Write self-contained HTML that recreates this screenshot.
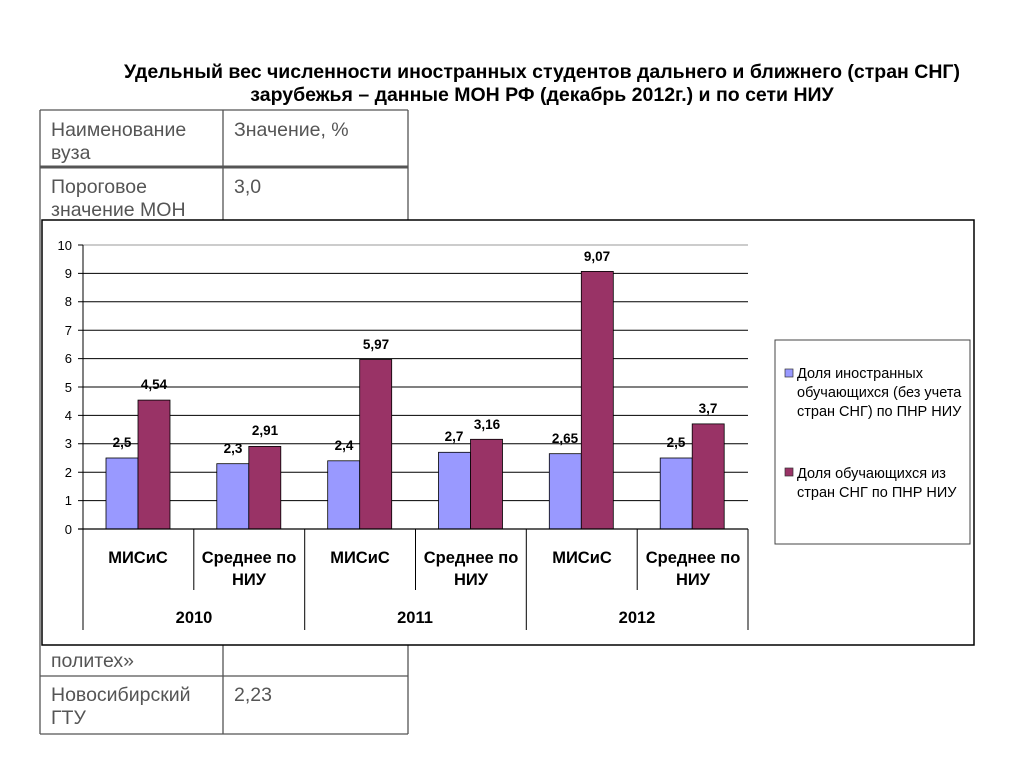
<!DOCTYPE html>
<html><head><meta charset="utf-8"><style>
body{margin:0;width:1024px;height:768px;background:#fff;position:relative;overflow:hidden;font-family:"Liberation Sans",sans-serif}
</style></head><body>
<div style="position:absolute;left:40px;top:61px;width:1004px;text-align:center;font-weight:bold;font-size:19.5px;line-height:23px;color:#000">Удельный вес численности иностранных студентов дальнего и ближнего (стран СНГ)<br>зарубежья – данные МОН РФ (декабрь 2012г.) и по сети НИУ</div>
<svg width="1024" height="768" style="position:absolute;left:0;top:0" font-family="Liberation Sans, sans-serif">
<g stroke="#555" stroke-width="1.3" fill="none">
<line x1="40" y1="110" x2="408" y2="110"/>
<line x1="40" y1="110" x2="40" y2="734"/>
<line x1="408" y1="110" x2="408" y2="734"/>
<line x1="223" y1="110" x2="223" y2="734"/>
<line x1="40" y1="676" x2="408" y2="676"/>
<line x1="40" y1="734" x2="408" y2="734"/>
</g>
<line x1="40" y1="167" x2="408" y2="167" stroke="#555" stroke-width="3"/>
<g font-size="19.5" fill="#555">
<text x="51" y="136">Наименование</text><text x="51" y="159">вуза</text>
<text x="234" y="136">Значение, %</text>
<text x="51" y="193">Пороговое</text><text x="51" y="216">значение МОН</text>
<text x="234" y="193">3,0</text>
<text x="51" y="667">политех»</text>
<text x="51" y="701">Новосибирский</text><text x="51" y="724">ГТУ</text>
<text x="234" y="701">2,23</text>
</g>
<rect x="42" y="220" width="932" height="425" fill="#fff" stroke="#000" stroke-width="1.5"/>
<g stroke="#000" stroke-width="1">
<line x1="83" y1="245" x2="748" y2="245" stroke="#999"/>
<line x1="78" y1="245" x2="83" y2="245"/>
<line x1="78" y1="273.4" x2="748" y2="273.4"/>
<line x1="78" y1="301.8" x2="748" y2="301.8"/>
<line x1="78" y1="330.2" x2="748" y2="330.2"/>
<line x1="78" y1="358.6" x2="748" y2="358.6"/>
<line x1="78" y1="387" x2="748" y2="387"/>
<line x1="78" y1="415.4" x2="748" y2="415.4"/>
<line x1="78" y1="443.8" x2="748" y2="443.8"/>
<line x1="78" y1="472.2" x2="748" y2="472.2"/>
<line x1="78" y1="500.6" x2="748" y2="500.6"/>
<line x1="83" y1="245" x2="83" y2="630"/>
<line x1="193.8" y1="529" x2="193.8" y2="590"/>
<line x1="415.5" y1="529" x2="415.5" y2="590"/>
<line x1="637.2" y1="529" x2="637.2" y2="590"/>
<line x1="304.7" y1="529" x2="304.7" y2="630"/>
<line x1="526.3" y1="529" x2="526.3" y2="630"/>
<line x1="748" y1="529" x2="748" y2="630"/>
</g>
<g stroke="#000" stroke-width="0.8">
<rect x="106" y="458" width="32" height="71" fill="#9999ff"/>
<rect x="216.8" y="463.7" width="32" height="65.3" fill="#9999ff"/>
<rect x="327.7" y="460.8" width="32" height="68.2" fill="#9999ff"/>
<rect x="438.5" y="452.3" width="32" height="76.7" fill="#9999ff"/>
<rect x="549.3" y="453.7" width="32" height="75.3" fill="#9999ff"/>
<rect x="660.2" y="458" width="32" height="71" fill="#9999ff"/>
<rect x="138" y="400.1" width="32" height="128.9" fill="#993366"/>
<rect x="248.8" y="446.4" width="32" height="82.6" fill="#993366"/>
<rect x="359.7" y="359.5" width="32" height="169.5" fill="#993366"/>
<rect x="470.5" y="439.3" width="32" height="89.7" fill="#993366"/>
<rect x="581.3" y="271.4" width="32" height="257.6" fill="#993366"/>
<rect x="692.2" y="423.9" width="32" height="105.1" fill="#993366"/>
</g>
<line x1="78" y1="529" x2="748" y2="529" stroke="#000" stroke-width="1.2"/>
<g font-size="13" fill="#000" text-anchor="end">
<text x="72" y="250">10</text><text x="72" y="278">9</text><text x="72" y="306">8</text><text x="72" y="335">7</text><text x="72" y="363">6</text><text x="72" y="392">5</text><text x="72" y="420">4</text><text x="72" y="448">3</text><text x="72" y="477">2</text><text x="72" y="505">1</text><text x="72" y="534">0</text>
</g>
<g font-size="13.5" font-weight="bold" fill="#000" text-anchor="middle">
<text x="122" y="447">2,5</text><text x="233" y="453">2,3</text><text x="344" y="450">2,4</text><text x="454" y="441">2,7</text><text x="565" y="443">2,65</text><text x="676" y="447">2,5</text>
<text x="154" y="389">4,54</text><text x="265" y="435">2,91</text><text x="376" y="349">5,97</text><text x="487" y="429">3,16</text><text x="597" y="261">9,07</text><text x="708" y="413">3,7</text>
</g>
<g font-size="16.5" font-weight="bold" fill="#000" text-anchor="middle">
<text x="138" y="563">МИСиС</text><text x="249" y="563">Среднее по</text><text x="249" y="585">НИУ</text>
<text x="360" y="563">МИСиС</text><text x="471" y="563">Среднее по</text><text x="471" y="585">НИУ</text>
<text x="582" y="563">МИСиС</text><text x="693" y="563">Среднее по</text><text x="693" y="585">НИУ</text>
<text x="194" y="623">2010</text><text x="415" y="623">2011</text><text x="637" y="623">2012</text>
</g>
<rect x="775" y="340" width="195" height="204" fill="#fff" stroke="#444" stroke-width="1"/>
<rect x="785" y="369" width="8" height="8" fill="#9999ff" stroke="#333" stroke-width="0.7"/>
<rect x="785" y="468" width="8" height="8" fill="#993366" stroke="#333" stroke-width="0.7"/>
<g font-size="14.5" fill="#000">
<text x="797" y="378">Доля иностранных</text><text x="797" y="397">обучающихся (без учета</text><text x="797" y="416">стран СНГ) по ПНР НИУ</text>
<text x="797" y="478">Доля обучающихся из</text><text x="797" y="497">стран СНГ по ПНР НИУ</text>
</g>
</svg>
</body></html>
